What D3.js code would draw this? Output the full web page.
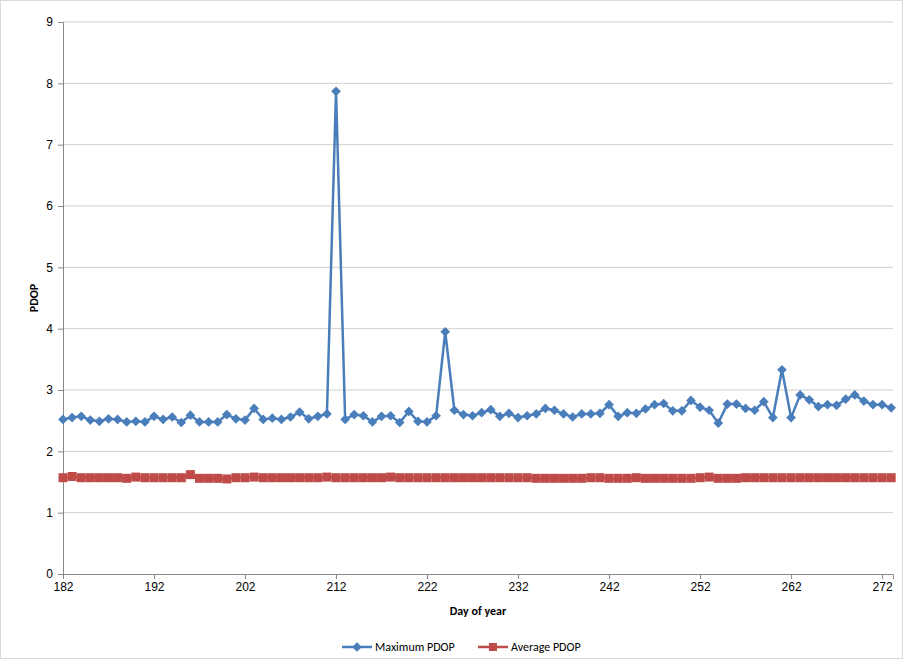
<!DOCTYPE html>
<html><head><meta charset="utf-8">
<script src="https://cdn.jsdelivr.net/npm/d3@7"></script>
<style>body{margin:0;background:#fff;font-family:Calibri,"Liberation Sans",Arial,sans-serif}</style>
</head><body><div id="chart"></div>
<script>
// Days and series
var days = d3.range(182, 274);
var maxPdop = [2.52,2.55,2.57,2.51,2.49,2.53,2.52,2.48,2.49,2.48,2.57,2.52,2.56,2.47,2.59,2.48,2.48,2.48,2.60,2.53,
  2.51,2.70,2.52,2.54,2.52,2.56,2.64,2.53,2.57,2.61,7.87,2.52,2.60,2.58,2.48,2.57,2.58,2.47,2.65,2.49,
  2.48,2.58,3.95,2.67,2.60,2.58,2.63,2.68,2.57,2.62,2.55,2.58,2.61,2.70,2.67,2.61,2.56,2.61,2.61,2.62,
  2.76,2.57,2.63,2.62,2.69,2.76,2.78,2.66,2.66,2.83,2.72,2.67,2.46,2.77,2.77,2.70,2.67,2.81,2.55,3.33,
  2.55,2.92,2.84,2.73,2.76,2.75,2.85,2.92,2.82,2.76,2.76,2.71];
var avgPdop = [1.57,1.59,1.57,1.57,1.57,1.57,1.57,1.56,1.58,1.57,1.57,1.57,1.57,1.57,1.62,1.56,1.56,1.56,1.55,1.57,
  1.57,1.58,1.57,1.57,1.57,1.57,1.57,1.57,1.57,1.58,1.57,1.57,1.57,1.57,1.57,1.57,1.58,1.57,1.57,1.57,
  1.57,1.57,1.57,1.57,1.57,1.57,1.57,1.57,1.57,1.57,1.57,1.57,1.56,1.56,1.56,1.56,1.56,1.56,1.57,1.57,
  1.56,1.56,1.56,1.57,1.56,1.56,1.56,1.56,1.56,1.56,1.57,1.58,1.56,1.56,1.56,1.57,1.57,1.57,1.57,1.57,
  1.57,1.57,1.57,1.57,1.57,1.57,1.57,1.57,1.57,1.57,1.57,1.57];
var xTicks = d3.range(182, 273, 10);
var yTicks = d3.range(0, 10);

var W = 904, H = 660;
var svg = d3.select("#chart").append("svg").attr("width", W).attr("height", H);
svg.append("rect").attr("x", 0.5).attr("y", 0.5).attr("width", W - 2).attr("height", H - 2)
  .attr("fill", "#fff").attr("stroke", "#d9d9d9");

var x = d3.scaleLinear().domain([182, 273.2]).range([63, 893]);
var y = d3.scaleLinear().domain([0, 9]).range([574, 22]);

// Gridlines
svg.append("g").selectAll("line").data(yTicks.slice(1)).enter().append("line")
  .attr("x1", 63).attr("x2", 893).attr("y1", d => y(d)).attr("y2", d => y(d))
  .attr("stroke", "#d0d0d0");

var xa = svg.append("g").attr("transform", "translate(0,574)")
  .call(d3.axisBottom(x).tickValues(xTicks).tickFormat(d3.format("d")).tickSize(5));
var ya = svg.append("g").attr("transform", "translate(63,0)")
  .call(d3.axisLeft(y).tickValues(yTicks).tickSize(5));
[xa, ya].forEach(a => {
  a.selectAll("path,line").attr("stroke", "#888");
  a.selectAll("text").attr("font-size", 12).attr("fill", "#000");
});
ya.selectAll("text").attr("dx", -2);

svg.append("text").attr("x", 478).attr("y", 615).attr("text-anchor", "middle")
  .attr("font-size", 12).attr("font-weight", "bold").text("Day of year");
svg.append("text").attr("transform", "translate(38,298) rotate(-90)").attr("text-anchor", "middle")
  .attr("font-size", 12).attr("font-weight", "bold").text("PDOP");

var blue = "#4A7EBB", red = "#BE4B48";
var line = d3.line().x((d, i) => x(days[i])).y(d => y(d));

svg.append("path").datum(avgPdop).attr("d", line).attr("fill", "none").attr("stroke", red).attr("stroke-width", 2.5);
svg.append("g").selectAll("rect").data(avgPdop).enter().append("rect")
  .attr("x", (d, i) => x(days[i]) - 4.5).attr("y", d => y(d) - 4.5)
  .attr("width", 9).attr("height", 9).attr("fill", red);

svg.append("path").datum(maxPdop).attr("d", line).attr("fill", "none").attr("stroke", blue).attr("stroke-width", 2.5);
var diamond = d3.symbol().type(d3.symbolDiamond2).size(60);
svg.append("g").selectAll("path").data(maxPdop).enter().append("path")
  .attr("d", diamond).attr("transform", (d, i) => `translate(${x(days[i])},${y(d)})`).attr("fill", blue);

// Legend
var leg = [{label: "Maximum PDOP", color: blue, sym: "d", x: 342}, {label: "Average PDOP", color: red, sym: "s", x: 478}];
var lg = svg.append("g").selectAll("g").data(leg).enter().append("g")
  .attr("transform", d => `translate(${d.x},647)`);
lg.append("line").attr("x1", 0).attr("x2", 30).attr("stroke", d => d.color).attr("stroke-width", 2.5);
lg.append("path").attr("transform", "translate(15,0)")
  .attr("d", d => d.sym === "d" ? diamond() : d3.symbol().type(d3.symbolSquare).size(64)())
  .attr("fill", d => d.color);
lg.append("text").attr("x", 33).attr("y", 4).attr("font-size", 12).text(d => d.label);
</script></body></html>
